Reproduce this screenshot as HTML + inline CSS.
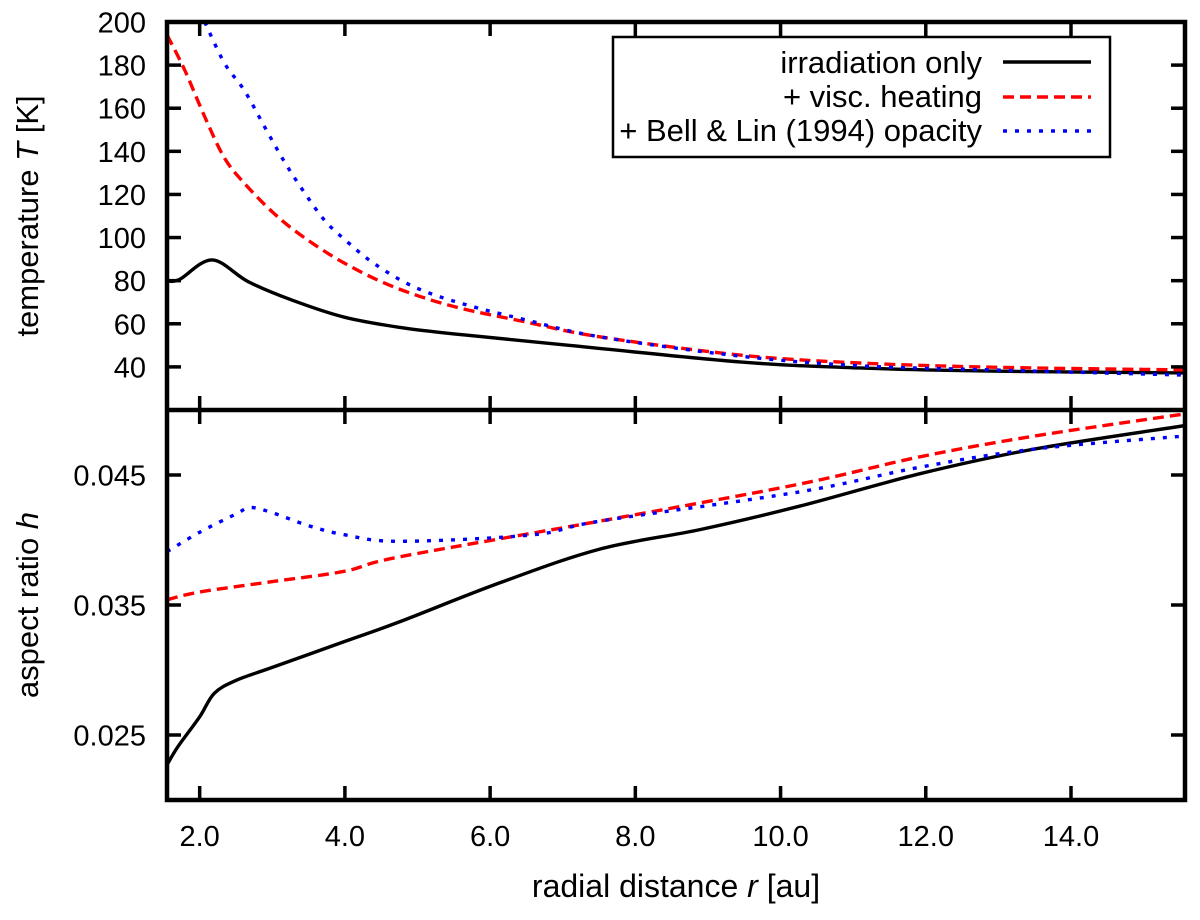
<!DOCTYPE html>
<html><head><meta charset="utf-8"><style>
body{margin:0;background:#fff}
svg text{font-family:"Liberation Sans",sans-serif;fill:#000}
</style></head><body>
<svg id="chart" width="1200" height="915"></svg>
<script>
const xTicks=[2,4,6,8,10,12,14];
const xTickLabels=["2.0","4.0","6.0","8.0","10.0","12.0","14.0"];
const tTicks=[40,60,80,100,120,140,160,180,200];
const hTicks=[0.025,0.035,0.045];
const hTickLabels=["0.025","0.035","0.045"];
const tX=[1.55,1.72,2.17,2.67,3.27,4.0,4.82,5.65,7.03,9.44,11.09,13,15.57];
const tIrr=[80,80.5,89.6,79.5,71,63,58,54.8,50.2,42.3,39.5,38,37.2];
const tViscX=[1.55,1.79,2.07,2.34,2.62,3.03,3.44,4.0,4.68,5.5,6.47,7.5,9.44,11.09,13,15.57];
const tVisc=[194,178,156,137,125,111,100,88,77,68,61,54,45.5,41.8,39.8,38.6];
const tBellX=[2.07,2.34,2.62,2.9,3.17,3.44,3.72,4.0,4.4,4.96,5.65,6.47,7.5,9.44,11.09,13,15.57];
const tBell=[200,181,168,151,135,121,108,99,88,77,69,62,54,45,40.5,38.5,36.2];
const hX=[1.55,1.7,2.0,2.2,2.5,3,4,4.75,6.13,7.51,8.89,10.26,11.92,13.5,15.57];
const hIrr=[0.0227,0.0241,0.0264,0.0282,0.0292,0.0302,0.0322,0.0337,0.0367,0.0393,0.0408,0.0426,0.0451,0.0470,0.0488];
const hViscX=[1.55,2,3,4,4.75,7.51,10.26,11.92,13.5,15.57];
const hVisc=[0.0354,0.0360,0.0368,0.0376,0.0387,0.04145,0.0443,0.0464,0.0480,0.0497];
const hBellX=[1.55,2,2.5,2.7,3,3.5,4,4.75,6.59,7.51,10.26,11.92,13.5,15.57];
const hBell=[0.0391,0.0406,0.0420,0.0425,0.0421,0.0411,0.0404,0.0399,0.0404,0.04145,0.0437,0.0456,0.0470,0.0480];

const L=167,R=1185,T0=22,M=410,B=800;
const xs=x=>L+(x-1.55)/(15.57-1.55)*(R-L);
const ysT=v=>M-(v-20)/(200-20)*(M-T0);
const ysH=v=>B-(v-0.02)/(0.05-0.02)*(B-M);
const svg=document.getElementById('chart');
const NS='http://www.w3.org/2000/svg';
function mk(tag,attrs,parent){const e=document.createElementNS(NS,tag);for(const k in attrs)e.setAttribute(k,attrs[k]);(parent||svg).appendChild(e);return e;}
function smooth(pts){let d='M'+pts[0][0]+','+pts[0][1];for(let i=0;i<pts.length-1;i++){const p0=pts[i-1]||pts[i],p1=pts[i],p2=pts[i+1],p3=pts[i+2]||p2;const c1x=p1[0]+(p2[0]-p0[0])/6,c1y=p1[1]+(p2[1]-p0[1])/6,c2x=p2[0]-(p3[0]-p1[0])/6,c2y=p2[1]-(p3[1]-p1[1])/6;d+=` C${c1x},${c1y} ${c2x},${c2y} ${p2[0]},${p2[1]}`;}return d;}

const clip=mk('clipPath',{id:'cT'});mk('rect',{x:L,y:T0,width:R-L,height:M-T0},clip);
const clip2=mk('clipPath',{id:'cH'});mk('rect',{x:L,y:M,width:R-L,height:B-M},clip2);

function series(xa,ya,ys,color,dash,clipId,name){
  const p=mk('path',{d:smooth(xa.map((x,i)=>[xs(x),ys(ya[i])])),fill:'none',stroke:color,'stroke-width':3.4,'stroke-dasharray':dash,'clip-path':`url(#${clipId})`});
  
  
}
series(tX,tIrr,ysT,'#000','none','cT','temp-irradiation-line');
series(tViscX,tVisc,ysT,'#f00','11,6','cT','temp-visc-line');
series(tBellX,tBell,ysT,'#00f','4,8','cT','temp-bell-lin-line');
series(hX,hIrr,ysH,'#000','none','cH','h-irradiation-line');
series(hViscX,hVisc,ysH,'#f00','11,6','cH','h-visc-line');
series(hBellX,hBell,ysH,'#00f','4,8','cH','h-bell-lin-line');

xTicks.forEach((x,i)=>{
  const px=xs(x);
  [[M,1],[M,-1],[B,-1],[T0,1]].forEach(([y,dir])=>mk('line',{x1:px,x2:px,y1:y,y2:y+dir*14,stroke:'#000','stroke-width':3.5}));
  const t=mk('text',{x:px,y:846,'font-size':29,'text-anchor':'middle'});t.textContent=xTickLabels[i];
  
  
});
tTicks.forEach(v=>{
  const py=ysT(v);
  mk('line',{x1:L,x2:L+14,y1:py,y2:py,stroke:'#000','stroke-width':3.5});
  mk('line',{x1:R,x2:R-14,y1:py,y2:py,stroke:'#000','stroke-width':3.5});
  const t=mk('text',{x:146,y:py+10.5,'font-size':29,'text-anchor':'end'});t.textContent=v;
  
  
});
hTicks.forEach((v,i)=>{
  const py=ysH(v);
  mk('line',{x1:L,x2:L+14,y1:py,y2:py,stroke:'#000','stroke-width':3.5});
  mk('line',{x1:R,x2:R-14,y1:py,y2:py,stroke:'#000','stroke-width':3.5});
  const t=mk('text',{x:146,y:py+10.5,'font-size':29,'text-anchor':'end'});t.textContent=hTickLabels[i];
  
  
});
mk('rect',{x:L,y:T0,width:R-L,height:B-T0,fill:'none',stroke:'#000','stroke-width':4.5});
mk('line',{x1:L,x2:R,y1:M,y2:M,stroke:'#000','stroke-width':4.5});
</script>
<svg style="position:absolute;left:0;top:0" width="1200" height="915">
<text x="38" y="216" font-size="31" text-anchor="middle" transform="rotate(-90 38 216)">temperature <tspan font-style="italic">T</tspan> [K]</text>
<text x="38" y="605" font-size="31" text-anchor="middle" transform="rotate(-90 38 605)">aspect ratio <tspan font-style="italic">h</tspan></text>
<text x="676" y="897" font-size="32" text-anchor="middle">radial distance <tspan font-style="italic">r</tspan> [au]</text>
<g>
<rect x="613" y="37" width="497" height="120" fill="#fff" stroke="#000" stroke-width="2.5"/>
<text x="982" y="73" font-size="31" text-anchor="end">irradiation only</text>
<line x1="1003" x2="1091" y1="62" y2="62" stroke="#000" stroke-width="3.4"/>
<text x="982" y="107" font-size="31" text-anchor="end">+ visc. heating</text>
<line x1="1003" x2="1091" y1="97" y2="97" stroke="#f00" stroke-width="3.4" stroke-dasharray="11,6"/>
<text x="982" y="141" font-size="31" text-anchor="end">+ Bell &amp; Lin (1994) opacity</text>
<line x1="1003" x2="1091" y1="131" y2="131" stroke="#00f" stroke-width="3.4" stroke-dasharray="4,8"/>
</g>
</svg>
</body></html>
